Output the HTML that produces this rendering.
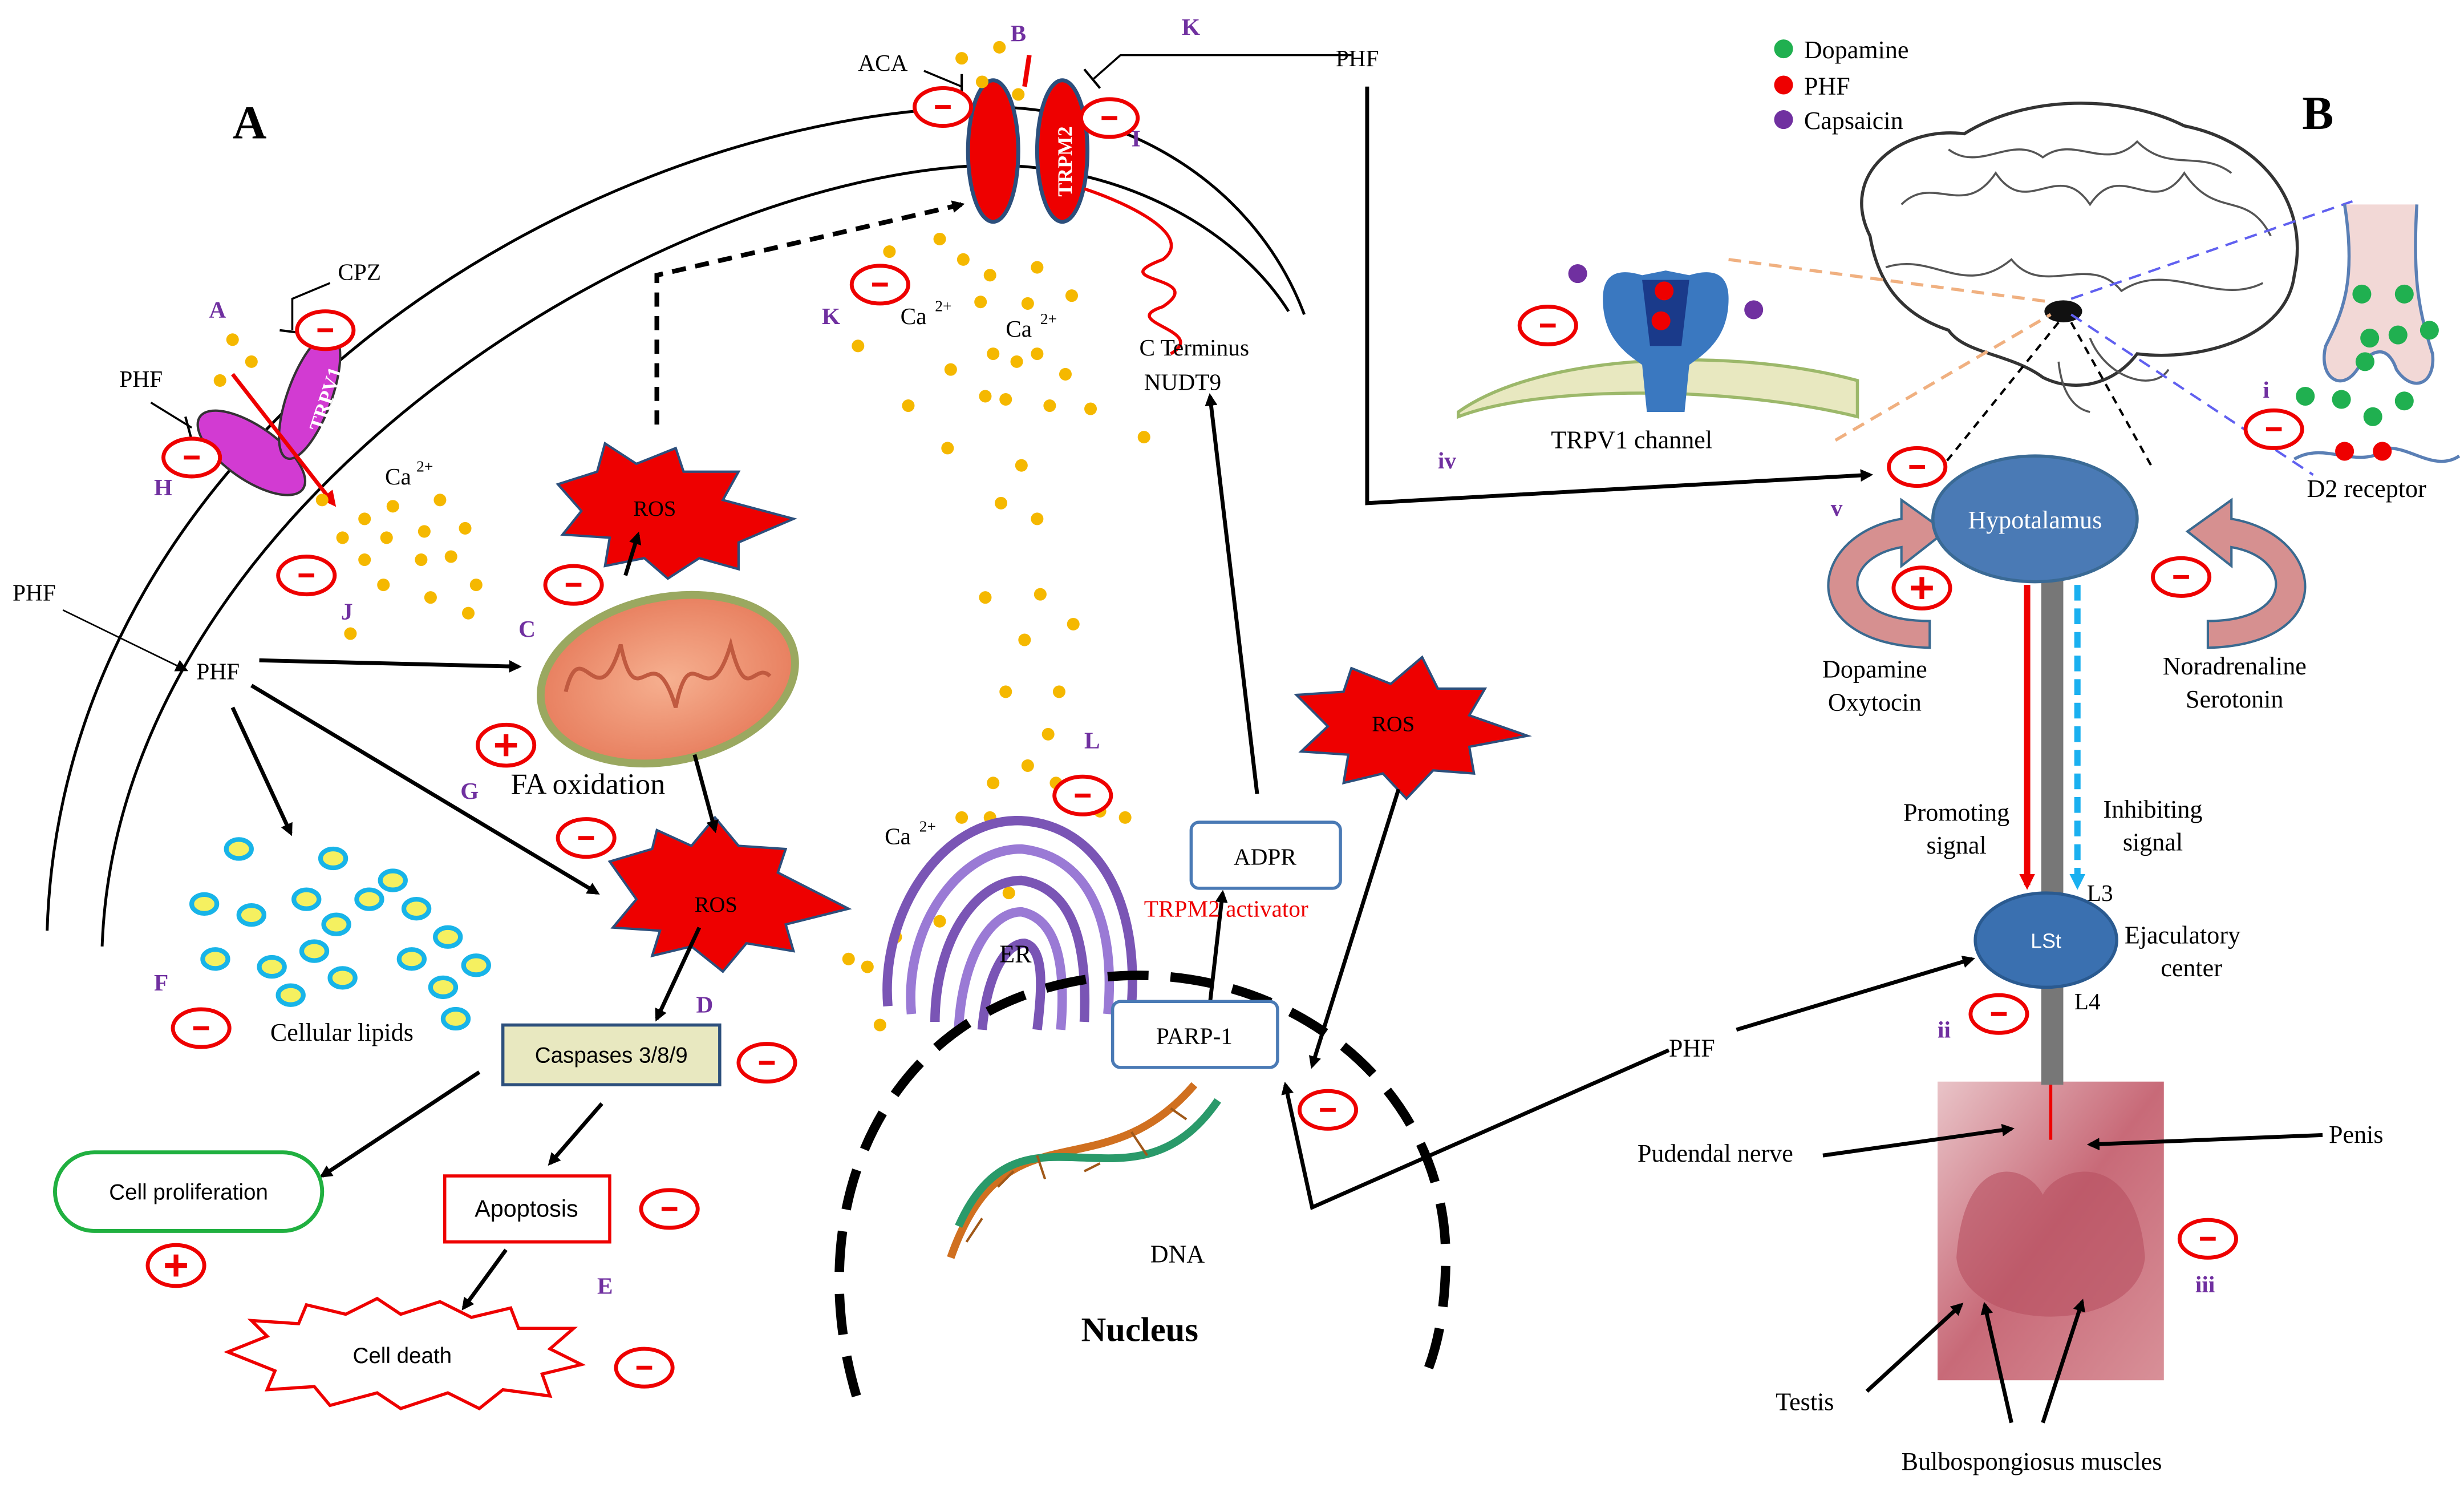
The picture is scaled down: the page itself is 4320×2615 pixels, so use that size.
<!DOCTYPE html>
<html><head><meta charset="utf-8"><style>
html,body{margin:0;padding:0;background:#fff;}
svg{display:block;}
text{font-family:"Liberation Serif",serif;}
.s{font-family:"Liberation Sans",sans-serif;}
</style></head><body>
<svg width="4320" height="2615" viewBox="0 0 1568 949" xmlns="http://www.w3.org/2000/svg">
<defs>
<marker id="ar" markerWidth="8" markerHeight="8" refX="6" refY="4" orient="auto" markerUnits="userSpaceOnUse"><path d="M0,0 L8,4 L0,8 z" fill="#000"/></marker>
<marker id="arr" markerWidth="10" markerHeight="10" refX="7" refY="5" orient="auto" markerUnits="userSpaceOnUse"><path d="M0,0 L10,5 L0,10 z" fill="#e00"/></marker>
<marker id="arb" markerWidth="10" markerHeight="10" refX="7" refY="5" orient="auto" markerUnits="userSpaceOnUse"><path d="M0,0 L10,5 L0,10 z" fill="#1ab0f0"/></marker>
<g id="mn"><ellipse cx="0" cy="0" rx="18" ry="12" fill="#fff" stroke="#e00" stroke-width="2.5"/><line x1="-5" y1="0" x2="5" y2="0" stroke="#e00" stroke-width="2.5"/></g>
<g id="pl"><ellipse cx="0" cy="0" rx="18" ry="13" fill="#fff" stroke="#e00" stroke-width="2.5"/><line x1="-7" y1="0" x2="7" y2="0" stroke="#e00" stroke-width="3"/><line x1="0" y1="-7" x2="0" y2="7" stroke="#e00" stroke-width="3"/></g>
<radialGradient id="mito"><stop offset="0" stop-color="#f6b090"/><stop offset="1" stop-color="#e88060"/></radialGradient>
<linearGradient id="photo" x1="0" y1="0" x2="1" y2="1"><stop offset="0" stop-color="#e9c4c8"/><stop offset="0.5" stop-color="#c86a78"/><stop offset="1" stop-color="#d89098"/></linearGradient>
</defs>

<!-- photo (drawn first so arrows are on top) -->
<rect x="1233" y="688" width="144" height="190" fill="url(#photo)"/>
<path d="M1245,800 C1250,730 1290,740 1300,760 C1310,740 1360,730 1365,800 C1360,850 1250,850 1245,800 Z" fill="#b85060" opacity="0.6"/>
<line x1="1305" y1="688" x2="1305" y2="725" stroke="#e00" stroke-width="2"/>

<!-- membranes -->
<path d="M30,592 C40,270 380,70 630,68 C720,68 800,120 830,200" fill="none" stroke="#000" stroke-width="1.8"/>
<path d="M65,602 C75,320 420,110 630,105 C720,105 790,150 820,198" fill="none" stroke="#000" stroke-width="1.8"/>

<text x="148" y="88" font-size="30" font-weight="bold">A</text>
<text x="1465" y="82" font-size="30" font-weight="bold">B</text>

<!-- TRPV1 -->
<ellipse cx="160" cy="288" rx="40" ry="17" transform="rotate(35 160 288)" fill="#d23bd2" stroke="#333" stroke-width="1.5"/>
<ellipse cx="197" cy="252" rx="42" ry="14" transform="rotate(-70 197 252)" fill="#d23bd2" stroke="#333" stroke-width="1.5"/>
<text x="0" y="0" font-size="13" fill="#fff" font-weight="bold" transform="translate(205,275) rotate(-72)">TRPV1</text>
<line x1="148" y1="238" x2="212" y2="320" stroke="#e00" stroke-width="2.5" marker-end="url(#arr)"/>
<path d="M186,210 L186,190 L210,180" fill="none" stroke="#000" stroke-width="1.3"/><line x1="178" y1="210" x2="194" y2="212" stroke="#000" stroke-width="1.5"/>
<text x="215" y="178" font-size="15">CPZ</text>
<use href="#mn" x="207" y="210"/>
<text x="133" y="202" font-size="15" fill="#7030a0" font-weight="bold">A</text>
<text x="76" y="246" font-size="15">PHF</text>
<path d="M96,256 L122,272" stroke="#000" stroke-width="1.3"/><line x1="118" y1="265" x2="122" y2="280" stroke="#000" stroke-width="1.5"/>
<use href="#mn" x="122" y="291"/>
<text x="98" y="315" font-size="15" fill="#7030a0" font-weight="bold">H</text>
<text x="245" y="308" font-size="15">Ca</text><text x="265" y="300" font-size="10">2+</text>
<use href="#mn" x="195" y="366"/>
<text x="217" y="394" font-size="15" fill="#7030a0" font-weight="bold">J</text>

<!-- TRPM2 -->
<ellipse cx="632" cy="96" rx="16" ry="45" fill="#e00" stroke="#2c4f7c" stroke-width="2.5"/>
<ellipse cx="676" cy="96" rx="16" ry="45" fill="#e00" stroke="#2c4f7c" stroke-width="2.5"/>
<text x="0" y="0" font-size="13" fill="#fff" font-weight="bold" transform="translate(682,125) rotate(-90)">TRPM2</text>
<path d="M690,120 C720,130 760,150 740,165 C700,180 770,175 740,195 C710,205 770,210 745,225" fill="none" stroke="#e00" stroke-width="2"/>
<line x1="655" y1="35" x2="652" y2="55" stroke="#e00" stroke-width="3"/>
<text x="643" y="26" font-size="15" fill="#7030a0" font-weight="bold">B</text>
<text x="546" y="45" font-size="15">ACA</text>
<path d="M588,45 L612,55" stroke="#000" stroke-width="1.3"/><line x1="612" y1="47" x2="612" y2="63" stroke="#000" stroke-width="1.5"/>
<use href="#mn" x="600" y="68"/>
<path d="M860,35 L713,35 L696,50" fill="none" stroke="#000" stroke-width="1.3"/><line x1="690" y1="44" x2="700" y2="56" stroke="#000" stroke-width="1.5"/>
<text x="850" y="42" font-size="15">PHF</text>
<text x="752" y="22" font-size="15" fill="#7030a0" font-weight="bold">K</text>
<use href="#mn" x="706" y="75"/>
<text x="720" y="93" font-size="15" fill="#7030a0" font-weight="bold">I</text>
<use href="#mn" x="560" y="181"/>
<text x="523" y="206" font-size="15" fill="#7030a0" font-weight="bold">K</text>
<text x="573" y="206" font-size="15">Ca</text><text x="595" y="198" font-size="10">2+</text>
<text x="640" y="214" font-size="15">Ca</text><text x="662" y="206" font-size="10">2+</text>
<text x="725" y="226" font-size="15">C Terminus</text>
<text x="728" y="248" font-size="15">NUDT9</text>

<!-- yellow dots -->
<g fill="#f5b800">
<circle cx="148" cy="216" r="4"/><circle cx="160" cy="230" r="4"/><circle cx="140" cy="242" r="4"/><circle cx="205" cy="318" r="4"/><circle cx="232" cy="330" r="4"/><circle cx="250" cy="322" r="4"/><circle cx="280" cy="318" r="4"/><circle cx="218" cy="342" r="4"/><circle cx="246" cy="342" r="4"/><circle cx="270" cy="338" r="4"/><circle cx="296" cy="336" r="4"/><circle cx="232" cy="356" r="4"/><circle cx="268" cy="356" r="4"/><circle cx="287" cy="354" r="4"/><circle cx="244" cy="372" r="4"/><circle cx="303" cy="372" r="4"/><circle cx="274" cy="380" r="4"/><circle cx="298" cy="390" r="4"/><circle cx="223" cy="403" r="4"/>
<circle cx="612" cy="37" r="4"/><circle cx="636" cy="30" r="4"/><circle cx="625" cy="52" r="4"/><circle cx="648" cy="60" r="4"/>
<circle cx="566" cy="160" r="4"/><circle cx="598" cy="152" r="4"/><circle cx="613" cy="165" r="4"/><circle cx="630" cy="175" r="4"/><circle cx="660" cy="170" r="4"/><circle cx="682" cy="188" r="4"/><circle cx="624" cy="192" r="4"/><circle cx="654" cy="193" r="4"/><circle cx="546" cy="220" r="4"/><circle cx="605" cy="235" r="4"/><circle cx="632" cy="225" r="4"/><circle cx="660" cy="225" r="4"/><circle cx="678" cy="238" r="4"/><circle cx="647" cy="230" r="4"/><circle cx="578" cy="258" r="4"/><circle cx="627" cy="252" r="4"/><circle cx="640" cy="254" r="4"/><circle cx="668" cy="258" r="4"/><circle cx="694" cy="260" r="4"/><circle cx="728" cy="278" r="4"/><circle cx="603" cy="285" r="4"/><circle cx="650" cy="296" r="4"/><circle cx="637" cy="320" r="4"/><circle cx="660" cy="330" r="4"/><circle cx="627" cy="380" r="4"/><circle cx="662" cy="378" r="4"/><circle cx="683" cy="397" r="4"/><circle cx="652" cy="407" r="4"/><circle cx="640" cy="440" r="4"/><circle cx="674" cy="440" r="4"/><circle cx="667" cy="467" r="4"/><circle cx="654" cy="487" r="4"/><circle cx="632" cy="498" r="4"/><circle cx="612" cy="520" r="4"/><circle cx="630" cy="520" r="4"/><circle cx="672" cy="498" r="4"/><circle cx="716" cy="520" r="4"/><circle cx="700" cy="516" r="4"/><circle cx="540" cy="610" r="4"/><circle cx="552" cy="615" r="4"/><circle cx="560" cy="652" r="4"/><circle cx="570" cy="596" r="4"/><circle cx="598" cy="586" r="4"/><circle cx="642" cy="568" r="4"/>
</g>

<!-- ROS stars -->
<g font-size="14">
<polygon points="355,308 380,300 385,282 405,295 430,285 435,300 470,300 460,318 505,330 470,345 470,362 445,355 425,368 410,355 385,360 388,342 358,340 370,325" fill="#e00" stroke="#2c4f7c" stroke-width="1.5"/>
<text x="403" y="328">ROS</text>
<polygon points="388,548 415,540 418,528 440,538 455,520 470,538 500,540 495,555 540,578 500,588 505,605 475,600 460,618 440,602 415,608 420,592 390,590 405,572" fill="#e00" stroke="#2c4f7c" stroke-width="1.5"/>
<text x="442" y="580">ROS</text>
<polygon points="825,442 855,440 860,425 885,435 905,418 915,438 945,438 935,455 972,468 935,475 938,492 912,490 895,508 880,492 855,498 858,480 828,478 845,462" fill="#e00" stroke="#2c4f7c" stroke-width="1.5"/>
<text x="873" y="465">ROS</text>
</g>
<use href="#mn" x="365" y="372"/>
<text x="330" y="405" font-size="15" fill="#7030a0" font-weight="bold">C</text>

<!-- mitochondria -->
<ellipse cx="425" cy="432" rx="82" ry="52" transform="rotate(-12 425 432)" fill="url(#mito)" stroke="#9aa860" stroke-width="5"/>
<path d="M360,440 C370,400 380,460 395,410 C405,460 415,400 430,450 C440,400 450,460 465,410 C475,450 480,420 490,430" fill="none" stroke="#c05a40" stroke-width="2.5"/>
<text x="325" y="505" font-size="19">FA oxidation</text>
<use href="#pl" x="322" y="474"/>
<text x="293" y="508" font-size="15" fill="#7030a0" font-weight="bold">G</text>
<use href="#mn" x="373" y="533"/>

<!-- PHF arrows -->
<text x="8" y="382" font-size="15">PHF</text>
<line x1="40" y1="388" x2="118" y2="426" stroke="#000" stroke-width="1" marker-end="url(#ar)"/>
<text x="125" y="432" font-size="15">PHF</text>
<g stroke="#000" stroke-width="2.5" fill="none">
<line x1="165" y1="420" x2="330" y2="424" marker-end="url(#ar)"/>
<line x1="160" y1="436" x2="380" y2="568" marker-end="url(#ar)"/>
<line x1="148" y1="450" x2="185" y2="530" marker-end="url(#ar)"/>
<line x1="398" y1="366" x2="406" y2="340" marker-end="url(#ar)"/>
<line x1="442" y1="480" x2="455" y2="528" marker-end="url(#ar)"/>
<line x1="445" y1="590" x2="418" y2="648" marker-end="url(#ar)"/>
<line x1="305" y1="682" x2="205" y2="748" marker-end="url(#ar)"/>
<line x1="383" y1="702" x2="350" y2="740" marker-end="url(#ar)"/>
<line x1="322" y1="795" x2="295" y2="832" marker-end="url(#ar)"/>
<line x1="800" y1="505" x2="770" y2="252" marker-end="url(#ar)"/>
<line x1="770" y1="638" x2="778" y2="568" marker-end="url(#ar)"/>
<line x1="890" y1="502" x2="835" y2="678" marker-end="url(#ar)"/>
<path d="M1062,668 L835,768 L818,690" marker-end="url(#ar)"/>
<path d="M1105,655 L1255,610" marker-end="url(#ar)"/>
<path d="M870,55 L870,320 L1190,302" marker-end="url(#ar)"/>
<path d="M1160,735 L1280,718" marker-end="url(#ar)"/>
<path d="M1478,722 L1330,728" marker-end="url(#ar)"/>
<path d="M1188,885 L1248,830" marker-end="url(#ar)"/>
<path d="M1280,905 L1263,830" marker-end="url(#ar)"/>
<path d="M1300,905 L1325,828" marker-end="url(#ar)"/>
</g>
<path d="M418,270 L418,175 L612,130" fill="none" stroke="#000" stroke-width="3" stroke-dasharray="9,6" marker-end="url(#ar)"/>

<!-- lipids -->
<g fill="#f5f060" stroke="#18b4e8" stroke-width="3">
<ellipse cx="152" cy="540" rx="8" ry="6"/><ellipse cx="212" cy="546" rx="8" ry="6"/><ellipse cx="130" cy="575" rx="8" ry="6"/><ellipse cx="160" cy="582" rx="8" ry="6"/><ellipse cx="195" cy="572" rx="8" ry="6"/><ellipse cx="235" cy="572" rx="8" ry="6"/><ellipse cx="250" cy="560" rx="8" ry="6"/><ellipse cx="265" cy="578" rx="8" ry="6"/><ellipse cx="214" cy="588" rx="8" ry="6"/><ellipse cx="137" cy="610" rx="8" ry="6"/><ellipse cx="173" cy="615" rx="8" ry="6"/><ellipse cx="200" cy="605" rx="8" ry="6"/><ellipse cx="218" cy="622" rx="8" ry="6"/><ellipse cx="262" cy="610" rx="8" ry="6"/><ellipse cx="285" cy="596" rx="8" ry="6"/><ellipse cx="303" cy="614" rx="8" ry="6"/><ellipse cx="282" cy="628" rx="8" ry="6"/><ellipse cx="185" cy="633" rx="8" ry="6"/><ellipse cx="290" cy="648" rx="8" ry="6"/>
</g>
<text x="172" y="662" font-size="16">Cellular lipids</text>
<text x="98" y="630" font-size="15" fill="#7030a0" font-weight="bold">F</text>
<use href="#mn" x="128" y="654"/>

<!-- caspases -->
<rect x="320" y="652" width="138" height="38" fill="#e8e8c0" stroke="#2c4f7c" stroke-width="2"/>
<text x="389" y="676" font-size="14" text-anchor="middle" class="s">Caspases 3/8/9</text>
<text x="443" y="644" font-size="15" fill="#7030a0" font-weight="bold">D</text>
<use href="#mn" x="488" y="676"/>
<rect x="35" y="733" width="170" height="50" rx="25" fill="#fff" stroke="#20b040" stroke-width="2.5"/>
<text x="120" y="763" font-size="14" text-anchor="middle" class="s">Cell proliferation</text>
<use href="#pl" x="112" y="805"/>
<rect x="283" y="748" width="105" height="42" fill="#fff" stroke="#e00" stroke-width="2"/>
<text x="335" y="774" font-size="15" text-anchor="middle" class="s">Apoptosis</text>
<use href="#mn" x="426" y="769"/>
<text x="380" y="823" font-size="15" fill="#7030a0" font-weight="bold">E</text>
<polygon points="145,860 170,850 160,840 190,842 195,830 220,836 240,826 255,836 280,828 300,838 325,832 330,845 365,845 350,858 370,868 345,874 350,888 320,884 305,896 285,886 255,896 240,886 210,894 200,882 170,884 175,872" fill="#fff" stroke="#e00" stroke-width="2"/>
<text x="256" y="867" font-size="14" text-anchor="middle" class="s">Cell death</text>
<use href="#mn" x="410" y="870"/>

<!-- ER -->
<g fill="none" stroke="#7a55b5" stroke-width="6">
<path d="M565,640 C560,580 600,520 650,522 C700,525 725,575 720,640"/>
<path d="M580,645 C575,590 610,540 650,540 C695,545 710,590 705,645" stroke="#9a7ad5"/>
<path d="M595,650 C595,600 620,560 650,560 C685,565 692,605 690,650"/>
<path d="M610,655 C612,610 630,580 650,580 C675,585 678,620 675,655" stroke="#9a7ad5"/>
<path d="M625,655 C628,620 640,600 652,600 C665,603 663,630 660,655"/>
</g>
<text x="636" y="612" font-size="16">ER</text>
<text x="563" y="537" font-size="15">Ca</text><text x="585" y="529" font-size="10">2+</text>
<use href="#mn" x="689" y="506"/>
<text x="690" y="476" font-size="15" fill="#7030a0" font-weight="bold">L</text>

<!-- nucleus -->
<path d="M545,888 C510,770 560,650 680,625 C800,600 920,680 920,800 C920,840 912,865 905,880" fill="none" stroke="#000" stroke-width="6" stroke-dasharray="26,14"/>
<text x="688" y="853" font-size="22" font-weight="bold">Nucleus</text>
<rect x="758" y="523" width="95" height="42" rx="5" fill="#fff" stroke="#4a7ab5" stroke-width="2"/>
<text x="805" y="550" font-size="15" text-anchor="middle">ADPR</text>
<text x="728" y="583" font-size="15" fill="#e00">TRPM2 activator</text>
<rect x="708" y="637" width="105" height="42" rx="5" fill="#fff" stroke="#4a7ab5" stroke-width="2"/>
<text x="760" y="664" font-size="15" text-anchor="middle">PARP-1</text>
<use href="#mn" x="845" y="706"/>
<path d="M605,800 C640,700 700,760 760,690" fill="none" stroke="#d07020" stroke-width="5"/>
<path d="M610,780 C650,690 720,780 775,700" fill="none" stroke="#2a9a6a" stroke-width="5"/>
<g stroke="#a05818" stroke-width="1.5"><line x1="615" y1="790" x2="625" y2="775"/><line x1="635" y1="755" x2="645" y2="745"/><line x1="660" y1="735" x2="665" y2="750"/><line x1="690" y1="745" x2="700" y2="740"/><line x1="720" y1="720" x2="730" y2="735"/><line x1="745" y1="705" x2="755" y2="712"/></g>
<text x="732" y="803" font-size="16">DNA</text>

<!-- Panel B legend -->
<circle cx="1135" cy="31" r="6" fill="#20b050"/><text x="1148" y="37" font-size="16">Dopamine</text>
<circle cx="1135" cy="54" r="6" fill="#e00"/><text x="1148" y="60" font-size="16">PHF</text>
<circle cx="1135" cy="76" r="6" fill="#7030a0"/><text x="1148" y="82" font-size="16">Capsaicin</text>

<!-- brain -->
<path d="M1190,150 C1170,110 1210,80 1250,85 C1290,60 1350,60 1390,80 C1440,90 1470,130 1460,175 C1455,215 1400,230 1360,225 C1345,245 1320,250 1300,240 C1280,225 1250,225 1240,210 C1210,200 1195,180 1190,150 Z" fill="#fff" stroke="#333" stroke-width="2"/>
<g fill="none" stroke="#555" stroke-width="1.3">
<path d="M1210,130 C1230,110 1250,140 1270,110 C1290,140 1310,100 1330,130 C1350,100 1370,140 1390,110 C1410,140 1430,120 1445,150"/>
<path d="M1200,170 C1230,160 1250,190 1280,165 C1300,190 1330,160 1350,185 C1380,165 1410,195 1440,180"/>
<path d="M1240,95 C1260,110 1280,85 1300,100 C1320,85 1340,110 1360,90 C1380,110 1400,95 1420,110"/>
<path d="M1330,215 C1340,240 1370,250 1380,235"/>
<path d="M1310,230 C1312,250 1320,260 1330,262"/>
</g>
<ellipse cx="1313" cy="198" rx="12" ry="7" fill="#111"/>
<line x1="1310" y1="205" x2="1235" y2="298" stroke="#000" stroke-width="1.5" stroke-dasharray="5,4"/>
<line x1="1318" y1="205" x2="1370" y2="298" stroke="#000" stroke-width="1.5" stroke-dasharray="5,4"/>
<line x1="1100" y1="165" x2="1305" y2="192" stroke="#f0b080" stroke-width="2" stroke-dasharray="8,5"/>
<line x1="1168" y1="280" x2="1305" y2="200" stroke="#f0b080" stroke-width="2" stroke-dasharray="8,5"/>
<line x1="1318" y1="190" x2="1497" y2="128" stroke="#6060f0" stroke-width="1.5" stroke-dasharray="8,5"/>
<line x1="1318" y1="200" x2="1472" y2="302" stroke="#6060f0" stroke-width="1.5" stroke-dasharray="8,5"/>
<!-- synapse -->
<path d="M1492,130 C1500,180 1490,200 1480,220 C1475,240 1490,250 1500,235 C1510,220 1520,220 1525,235 C1535,250 1550,245 1548,225 C1540,200 1535,180 1538,130 Z" fill="#f2d8d6"/>
<path d="M1492,130 C1500,180 1490,200 1480,220 C1475,240 1490,250 1500,235 C1510,220 1520,220 1525,235 C1535,250 1550,245 1548,225 C1540,200 1535,180 1538,130" fill="none" stroke="#5a7fb5" stroke-width="2"/>
<path d="M1460,292 C1480,280 1500,300 1520,285 C1535,285 1550,300 1565,290" fill="none" stroke="#5a7fb5" stroke-width="2"/>
<g fill="#20b050"><circle cx="1503" cy="187" r="6"/><circle cx="1530" cy="187" r="6"/><circle cx="1508" cy="215" r="6"/><circle cx="1526" cy="213" r="6"/><circle cx="1546" cy="210" r="6"/><circle cx="1505" cy="230" r="6"/><circle cx="1467" cy="252" r="6"/><circle cx="1490" cy="254" r="6"/><circle cx="1510" cy="265" r="6"/><circle cx="1530" cy="255" r="6"/></g>
<g fill="#e00"><circle cx="1492" cy="287" r="6"/><circle cx="1516" cy="287" r="6"/></g>
<text x="1440" y="253" font-size="15" fill="#7030a0" font-weight="bold">i</text>
<use href="#mn" x="1447" y="273"/>
<text x="1468" y="316" font-size="16">D2 receptor</text>

<!-- TRPV1 channel -->
<path d="M928,262 C980,225 1100,220 1182,242 L1182,265 C1100,245 980,245 928,265 Z" fill="#e8e8c0" stroke="#9cb86a" stroke-width="2"/>
<path d="M1020,190 C1020,170 1035,172 1045,175 L1060,172 L1075,175 C1085,172 1100,170 1100,190 C1100,215 1085,225 1075,232 L1072,262 L1048,262 L1045,232 C1035,225 1020,215 1020,190 Z" fill="#3a78c0"/>
<path d="M1045,178 L1075,178 L1070,220 L1050,220 Z" fill="#1a3a8a"/>
<circle cx="1059" cy="185" r="6" fill="#e00"/><circle cx="1057" cy="204" r="6" fill="#e00"/>
<circle cx="1004" cy="174" r="6" fill="#7030a0"/><circle cx="1116" cy="197" r="6" fill="#7030a0"/>
<use href="#mn" x="985" y="207"/>
<text x="987" y="285" font-size="16">TRPV1 channel</text>
<text x="915" y="298" font-size="15" fill="#7030a0" font-weight="bold">iv</text>

<!-- hypothalamus -->
<rect x="1299" y="365" width="14" height="325" fill="#777"/>
<path d="M1228,412 C1140,410 1150,340 1210,330 L1210,318 L1238,338 L1210,360 L1210,348 C1170,355 1170,395 1228,395 Z" fill="#d69090" stroke="#3a6a90" stroke-width="1.5"/>
<path d="M1405,412 C1490,410 1480,340 1420,330 L1420,318 L1392,338 L1420,360 L1420,348 C1460,355 1460,395 1405,395 Z" fill="#d69090" stroke="#3a6a90" stroke-width="1.5"/>
<ellipse cx="1295" cy="330" rx="65" ry="40" fill="#4a7ab5" stroke="#3a6a95" stroke-width="2"/>
<text x="1295" y="336" font-size="16" fill="#fff" text-anchor="middle">Hypotalamus</text>
<use href="#mn" x="1220" y="297"/>
<text x="1165" y="328" font-size="15" fill="#7030a0" font-weight="bold">v</text>
<use href="#pl" x="1223" y="374"/>
<use href="#mn" x="1388" y="367"/>
<text x="1193" y="431" font-size="16" text-anchor="middle">Dopamine</text>
<text x="1193" y="452" font-size="16" text-anchor="middle">Oxytocin</text>
<text x="1422" y="429" font-size="16" text-anchor="middle">Noradrenaline</text>
<text x="1422" y="450" font-size="16" text-anchor="middle">Serotonin</text>
<line x1="1290" y1="372" x2="1290" y2="563" stroke="#e00" stroke-width="4" marker-end="url(#arr)"/>
<line x1="1322" y1="372" x2="1322" y2="563" stroke="#1ab0f0" stroke-width="4" stroke-dasharray="10,5" marker-end="url(#arb)"/>
<text x="1245" y="522" font-size="16" text-anchor="middle">Promoting</text>
<text x="1245" y="543" font-size="16" text-anchor="middle">signal</text>
<text x="1370" y="520" font-size="16" text-anchor="middle">Inhibiting</text>
<text x="1370" y="541" font-size="16" text-anchor="middle">signal</text>
<text x="1328" y="573" font-size="15">L3</text>
<ellipse cx="1302" cy="598" rx="45" ry="30" fill="#3a70b0" stroke="#2a5a90" stroke-width="2"/>
<text x="1302" y="603" font-size="13" fill="#fff" text-anchor="middle" class="s">LSt</text>
<text x="1352" y="600" font-size="16">Ejaculatory</text>
<text x="1375" y="621" font-size="16">center</text>
<text x="1320" y="642" font-size="15">L4</text>
<use href="#mn" x="1272" y="645"/>
<text x="1233" y="660" font-size="15" fill="#7030a0" font-weight="bold">ii</text>
<text x="1062" y="672" font-size="16">PHF</text>

<text x="1042" y="739" font-size="16">Pudendal nerve</text>
<text x="1482" y="727" font-size="16">Penis</text>
<use href="#mn" x="1405" y="788"/>
<text x="1397" y="822" font-size="15" fill="#7030a0" font-weight="bold">iii</text>
<text x="1130" y="897" font-size="16">Testis</text>
<text x="1210" y="935" font-size="16">Bulbospongiosus muscles</text>
</svg>
</body></html>
